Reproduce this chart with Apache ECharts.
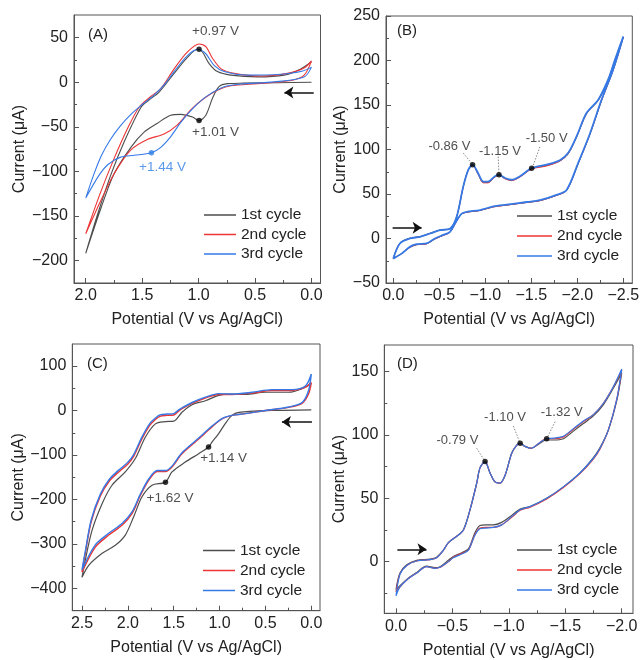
<!DOCTYPE html>
<html><head><meta charset="utf-8">
<script src="https://cdn.jsdelivr.net/npm/echarts@6/dist/echarts.min.js"></script>
<style>html,body{margin:0;padding:0;background:#fff}#c{width:641px;height:660px}</style>
</head><body><div id="c"></div>
<script>
const FONT = 'Liberation Sans, Arial, Helvetica, sans-serif';
const CYCLE_NAMES = ['1st cycle', '2nd cycle', '3rd cycle'];
const X_NAME = 'Potential (V vs Ag/AgCl)';
const Y_NAME = 'Current (μA)';

// ---------- Panel A ----------
const A_x_major = [2.0, 1.5, 1.0, 0.5, 0.0];
const A_x_minor = [1.75, 1.25, 0.75, 0.25];
const A_y_major = [-200, -150, -100, -50, 0, 50];
const A_y_minor = [-175, -125, -75, -25, 25];
const A_cycle1 = [[0,0],[0.3,-0.5],[0.6,-1],[0.744,-1.5],[0.82,-5],[0.877,-18],[0.936,-37],[0.996,-43],[1.055,-39],[1.158,-36],[1.247,-37],[1.365,-46],[1.483,-56],[1.60,-73],[1.75,-103],[1.867,-142],[2.0,-192],
  [1.897,-149],[1.778,-104],[1.66,-67],[1.51,-28],[1.44,-20],[1.35,-11],[1.217,10],[1.099,28],[1.01,37],[0.966,34],[0.907,21],[0.833,12],[0.715,8],[0.479,6],[0.242,8],[0.095,15],[0,23]];
const A_cycle2 = [[0,24],[0.065,8],[0.18,2],[0.48,-1.5],[0.715,-4],[0.833,-9],[0.95,-18],[1.07,-31],[1.19,-48],[1.306,-58],[1.45,-64],[1.60,-76],[1.75,-103],[1.867,-133],[2.0,-170],
  [1.867,-123],[1.75,-86],[1.63,-52],[1.527,-28],[1.424,-16],[1.335,-7],[1.217,15],[1.099,34],[0.996,43],[0.936,40],[0.877,27],[0.80,15],[0.685,10],[0.45,7],[0.213,10],[0.065,16],[0,24]];
const A_cycle3 = [[0,17],[0.065,6],[0.33,0.4],[0.626,-2],[0.774,-5],[0.92,-15],[1.04,-28],[1.158,-45],[1.247,-61],[1.335,-73],[1.418,-79],[1.57,-82],[1.69,-84],[1.80,-92],[1.88,-104],[2.0,-130],
  [1.93,-104],[1.86,-82],[1.78,-64],[1.70,-50],[1.60,-36],[1.50,-25],[1.40,-15],[1.306,-3],[1.217,12],[1.099,30],[1.005,37],[0.936,32],[0.863,19],[0.774,12],[0.567,8],[0.27,9],[0.095,12],[0,17]];
const A_dots_black = [[0.996,37],[0.996,-43]];
const A_dots_blue = [[1.418,-79]];
const A_labels_black = [{name:'+0.97 V', value:[0.85,57]}, {name:'+1.01 V', value:[0.85,-56]}];
const A_labels_blue = [{name:'+1.44 V', value:[1.32,-95]}];
const A_arrow = [[-0.02,-11.5],[0.24,-11.5]];

// ---------- Panel B ----------
const B_x_major = [0.0, -0.5, -1.0, -1.5, -2.0, -2.5];
const B_x_minor = [-0.25, -0.75, -1.25, -1.75, -2.25];
const B_y_major = [-50, 0, 50, 100, 150, 200, 250];
const B_y_minor = [-25, 25, 75, 125, 175, 225];
const B_cycle1 = [[0,-22],[-0.072,-5],[-0.18,0.5],[-0.29,2],[-0.40,6],[-0.507,9.5],[-0.616,11],[-0.688,24],[-0.76,58],[-0.815,77],[-0.862,82.5],[-0.924,72],[-0.978,63],[-1.03,63],[-1.105,69.5],[-1.149,71],[-1.214,67.5],[-1.286,65.5],[-1.377,69.5],[-1.504,78.5],[-1.667,82],[-1.81,87],[-1.90,95],[-1.993,114],[-2.10,140],[-2.228,155],[-2.337,178],[-2.41,200],[-2.5,226],
  [-2.39,189],[-2.264,155],[-2.138,117],[-2.01,84],[-1.884,54],[-1.775,48.5],[-1.594,42.5],[-1.45,40.5],[-1.232,37.5],[-1.087,35.5],[-0.942,31.5],[-0.797,29.5],[-0.743,27.5],[-0.688,19.5],[-0.616,7],[-0.543,3.5],[-0.453,-0.5],[-0.362,-6],[-0.254,-7],[-0.18,-10],[-0.09,-17],[0,-22]];
const B_cycle2 = [[0,-22.5],[-0.072,-5.5],[-0.18,0],[-0.29,2],[-0.40,5.5],[-0.507,9.5],[-0.616,11],[-0.688,24],[-0.76,58],[-0.815,77],[-0.862,82.5],[-0.924,72],[-0.978,62.5],[-1.03,62.5],[-1.105,69],[-1.149,71],[-1.214,67],[-1.286,65],[-1.377,69],[-1.504,78],[-1.667,81.5],[-1.81,87],[-1.90,95],[-1.993,114.5],[-2.10,140.5],[-2.228,155.5],[-2.337,178.5],[-2.41,200.5],[-2.5,226.5],
  [-2.39,189.5],[-2.264,155.5],[-2.138,117.5],[-2.01,84.5],[-1.884,54],[-1.775,48.5],[-1.594,42.5],[-1.45,40.5],[-1.232,37.5],[-1.087,35.5],[-0.942,31.5],[-0.797,29.5],[-0.743,27.5],[-0.688,19.5],[-0.616,7],[-0.543,3.5],[-0.453,-0.5],[-0.362,-6],[-0.254,-7],[-0.18,-10],[-0.09,-17],[0,-22.5]];
const B_cycle3 = [[0,-22.6],[-0.072,-5.6],[-0.18,0],[-0.29,1.9],[-0.40,5.6],[-0.507,9.4],[-0.616,11],[-0.688,24],[-0.76,58],[-0.815,77],[-0.862,83],[-0.924,73],[-0.978,64],[-1.03,64],[-1.105,70],[-1.149,71.5],[-1.214,68],[-1.286,66],[-1.377,70],[-1.504,79],[-1.667,83],[-1.81,88],[-1.90,96],[-1.993,115],[-2.10,141],[-2.228,156],[-2.337,179],[-2.41,201],[-2.5,227],
  [-2.39,190],[-2.264,156],[-2.138,118],[-2.01,85],[-1.884,54.5],[-1.775,49],[-1.594,43],[-1.45,41],[-1.232,38],[-1.087,36],[-0.942,32],[-0.797,30],[-0.743,28],[-0.688,20],[-0.616,7.5],[-0.543,4],[-0.453,0],[-0.362,-5.6],[-0.254,-6.4],[-0.18,-9.4],[-0.09,-17],[0,-22.6]];
const B_dots = [[-0.862,83],[-1.149,71.5],[-1.504,79]];
const B_labels = [{name:'-0.86 V', value:[-0.61,103]}, {name:'-1.15 V', value:[-1.16,98]}, {name:'-1.50 V', value:[-1.667,113]}];
const B_leaders = [[[-0.761,96],[-0.862,83]], [[-1.141,92],[-1.149,71.5]], [[-1.594,103],[-1.51,79]]];
const B_arrow = [[0.007,12],[-0.308,12]];

// ---------- Panel C ----------
const C_x_major = [2.5, 2.0, 1.5, 1.0, 0.5, 0.0];
const C_x_minor = [2.25, 1.75, 1.25, 0.75, 0.25];
const C_y_major = [-400, -300, -200, -100, 0, 100];
const C_y_minor = [-350, -250, -150, -50, 50];
const C_cycle1 = [[0,1.5],[0.43,0],[0.79,-4],[0.865,-11],[0.94,-30],[1.01,-52],[1.083,-71],[1.12,-82],[1.228,-97],[1.374,-116],[1.519,-138],[1.59,-161],[1.737,-168],[1.846,-194],[1.937,-239],[2.028,-280],[2.137,-303],[2.28,-321],[2.427,-348],[2.5,-375],
  [2.464,-336],[2.39,-269],[2.28,-209],[2.173,-168],[2.028,-138],[1.919,-108],[1.81,-60],[1.70,-30],[1.59,-25],[1.50,-24],[1.41,-4],[1.30,13],[1.155,22],[1.01,34],[0.90,37],[0.72,36],[0.50,41],[0.247,41],[0.10,49],[0,61]];
const C_cycle2 = [[0,62],[0.03,37],[0.10,16],[0.247,7],[0.50,0],[0.72,-7],[0.865,-11],[0.974,-19],[1.083,-37],[1.228,-64],[1.41,-97],[1.519,-127],[1.59,-137],[1.68,-137],[1.773,-157],[1.864,-191],[1.955,-232],[2.064,-258],[2.209,-280],[2.355,-307],[2.5,-363],
  [2.464,-320],[2.40,-250],[2.30,-192],[2.20,-158],[2.10,-138],[2.00,-120],[1.937,-103],[1.85,-65],[1.76,-33],[1.70,-20],[1.65,-13],[1.573,-11],[1.50,-10],[1.45,-2],[1.41,4],[1.30,16],[1.155,28],[1.01,36],[0.865,36],[0.647,39],[0.43,45],[0.21,45],[0.065,52],[0,64]];
const C_cycle3 = [[0,82],[0.03,45],[0.10,18],[0.247,8],[0.50,0],[0.72,-7],[0.865,-11],[0.974,-18],[1.083,-35],[1.228,-62],[1.41,-95],[1.519,-125],[1.59,-135],[1.68,-135],[1.773,-154],[1.864,-188],[1.955,-228],[2.064,-254],[2.209,-276],[2.355,-302],[2.5,-358],
  [2.464,-316],[2.40,-246],[2.30,-188],[2.20,-154],[2.10,-134],[2.00,-116],[1.937,-99],[1.85,-61],[1.76,-29],[1.70,-17],[1.65,-10],[1.573,-8],[1.50,-7],[1.45,1],[1.41,6],[1.30,18],[1.155,30],[1.01,38],[0.865,37],[0.647,41],[0.43,47],[0.21,47],[0.065,55],[0,82]];
const C_dots = [[1.12,-82],[1.59,-161]];
const C_labels = [{name:'+1.14 V', value:[0.956,-108]}, {name:'+1.62 V', value:[1.54,-198]}];
const C_arrow = [[-0.007,-26],[0.32,-26]];

// ---------- Panel D ----------
const D_x_major = [0.0, -0.5, -1.0, -1.5, -2.0];
const D_x_minor = [-0.25, -0.75, -1.25, -1.75];
const D_y_major = [0, 50, 100, 150];
const D_y_minor = [-25, 25, 75, 125];
const D_cycle1 = [[0,-22],[-0.035,-9],[-0.095,-2.5],[-0.183,1],[-0.30,2],[-0.36,3.5],[-0.42,9],[-0.464,15],[-0.538,20],[-0.597,25],[-0.656,41],[-0.715,62],[-0.744,74],[-0.789,79],[-0.833,70],[-0.877,63],[-0.92,62],[-0.966,68],[-1.025,85.5],[-1.07,92],[-1.10,93.4],[-1.143,91],[-1.20,89.5],[-1.26,92.5],[-1.33,96],[-1.394,96],[-1.483,97],[-1.572,103],[-1.66,109],[-1.749,115],[-1.838,124],[-1.926,137],[-2.0,149],
  [-1.956,127],[-1.882,104],[-1.808,90],[-1.749,82],[-1.63,70],[-1.483,59],[-1.335,50],[-1.188,43.5],[-1.10,41.5],[-1.025,36.5],[-0.936,31],[-0.863,29],[-0.80,29],[-0.744,28.5],[-0.70,23],[-0.641,10],[-0.582,7],[-0.508,4],[-0.464,1],[-0.39,-4],[-0.346,-4.8],[-0.27,-3.5],[-0.183,-8.5],[-0.095,-14],[-0.035,-19],[0,-22]];
const D_cycle2 = [[0,-24],[-0.035,-9.5],[-0.095,-3],[-0.183,0.5],[-0.30,1.5],[-0.36,3],[-0.42,9],[-0.464,15],[-0.538,20],[-0.597,25],[-0.656,41],[-0.715,62],[-0.744,74],[-0.789,79],[-0.833,70],[-0.877,63],[-0.92,62],[-0.966,68],[-1.025,85.5],[-1.07,92],[-1.10,93.4],[-1.143,91],[-1.20,89.5],[-1.26,93],[-1.33,97],[-1.394,97],[-1.483,98.5],[-1.572,104.5],[-1.66,110.5],[-1.749,116],[-1.838,125],[-1.926,138],[-2.0,151],
  [-1.956,128],[-1.882,104],[-1.808,89],[-1.749,81],[-1.63,69.5],[-1.483,58.5],[-1.335,49.5],[-1.188,43],[-1.10,40.5],[-1.025,35],[-0.936,29],[-0.863,27],[-0.80,27],[-0.744,26.5],[-0.70,21.5],[-0.641,9],[-0.582,6.5],[-0.508,3.4],[-0.464,0],[-0.39,-4.5],[-0.346,-5.3],[-0.27,-4],[-0.183,-9],[-0.095,-14.5],[-0.035,-20],[0,-24]];
const D_cycle3 = [[0,-27],[-0.035,-10],[-0.095,-3],[-0.183,0.5],[-0.30,1.5],[-0.36,3],[-0.42,9],[-0.464,15],[-0.538,20],[-0.597,25],[-0.656,41],[-0.715,62],[-0.744,74],[-0.789,79],[-0.833,70],[-0.877,63],[-0.92,62],[-0.966,68],[-1.025,85.5],[-1.07,92],[-1.10,93.4],[-1.143,91],[-1.20,89.5],[-1.26,93],[-1.33,97],[-1.394,97.5],[-1.483,99],[-1.572,105],[-1.66,111],[-1.749,116],[-1.838,125],[-1.926,138],[-2.0,152],
  [-1.956,128],[-1.882,104],[-1.808,89.5],[-1.749,81.6],[-1.63,70],[-1.483,59],[-1.335,50],[-1.188,43.4],[-1.10,41],[-1.025,35.5],[-0.936,29],[-0.863,27],[-0.80,26.5],[-0.744,26],[-0.70,21],[-0.641,9],[-0.582,6],[-0.508,3],[-0.464,0],[-0.39,-4.5],[-0.346,-5.3],[-0.27,-4],[-0.183,-9],[-0.095,-14.5],[-0.035,-20],[0,-27]];
const D_dots = [[-0.789,79],[-1.10,93.4],[-1.335,97]];
const D_labels = [{name:'-0.79 V', value:[-0.544,96]}, {name:'-1.10 V', value:[-0.966,114]}, {name:'-1.32 V', value:[-1.468,118]}];
const D_leaders = [[[-0.715,89.5],[-0.789,79]], [[-1.04,107],[-1.10,93.4]], [[-1.41,110.5],[-1.335,97]]];
const D_arrow = [[-0.012,9.7],[-0.27,9.7]];

// ---------- styling ----------
const AXIS_COLOR = '#555';
const TEXT_COLOR = '#222';
const COLORS = ['#4d4d4d', '#ec3434', '#3579e6'];
const BLUE_TEXT = '#2f7fe6';

function fmtX(v) { const s = Math.abs(v) < 1e-9 ? '0.0' : v.toFixed(1); return s.replace('-', '\u2212'); }
function fmtY(v) { return String(Math.round(v)).replace('-', '\u2212'); }

const panels = [
  {grid:{left:74, top:15, width:246.5, height:268}, xr:[-0.08,2.104], yr:[-225.3,75.5], xMaj:A_x_major, xMin:A_x_minor, yMaj:A_y_major, yMin:A_y_minor, yGap:44, cycles:[A_cycle1,A_cycle2,A_cycle3], widths:[1.1,1.1,1.1], label:'(A)', lp:[88,27], ann:13.5},
  {grid:{left:386, top:16, width:246.3, height:267}, xr:[-2.598,0.079], yr:[-50,250], xMaj:B_x_major, xMin:B_x_minor, yMaj:B_y_major, yMin:B_y_minor, yGap:35.5, cycles:[B_cycle1,B_cycle2,B_cycle3], widths:[1,1,1.8], label:'(B)', lp:[397,23], ann:13},
  {grid:{left:72.3, top:344, width:247.7, height:266.7}, xr:[-0.095,2.606], yr:[-450,149.5], xMaj:C_x_major, xMin:C_x_minor, yMaj:C_y_major, yMin:C_y_minor, yGap:42, cycles:[C_cycle1,C_cycle2,C_cycle3], widths:[1.2,1.4,1.4], label:'(C)', lp:[87,356], ann:13.5},
  {grid:{left:384.3, top:345, width:248.7, height:268.3}, xr:[-2.1,0.104], yr:[-40.8,171], xMaj:D_x_major, xMin:D_x_minor, yMaj:D_y_major, yMin:D_y_minor, yGap:33, cycles:[D_cycle1,D_cycle2,D_cycle3], widths:[1.2,1.2,1.2], label:'(D)', lp:[397,356], ann:13}
];

const grids = [], xAxes = [], yAxes = [], series = [], graphics = [];
const tickStyle = {color: AXIS_COLOR, width: 1};
const tickTxt = {fontFamily: FONT, fontSize: 16, color: TEXT_COLOR};
const nameTxt = {fontFamily: FONT, fontSize: 16, color: TEXT_COLOR};

panels.forEach((p, g) => {
  grids.push(Object.assign({show:true, borderColor:AXIS_COLOR, borderWidth:1, backgroundColor:'transparent', containLabel:false, outerBoundsMode:'none'}, p.grid));
  xAxes.push({type:'value', gridIndex:g, position:'bottom', min:p.xr[0], max:p.xr[1], inverse:true,
    name:X_NAME, nameLocation:'middle', nameGap:29, nameTextStyle:nameTxt,
    axisLine:{show:true, onZero:false, lineStyle:tickStyle},
    axisTick:{show:true, inside:true, length:5, customValues:p.xMaj, lineStyle:tickStyle},
    axisLabel:{show:true, customValues:p.xMaj, formatter:fmtX, margin:5, ...tickTxt},
    splitLine:{show:false}});
  xAxes.push({type:'value', gridIndex:g, position:'bottom', min:p.xr[0], max:p.xr[1], inverse:true,
    axisLine:{show:false, onZero:false}, axisTick:{show:true, inside:true, length:3, customValues:p.xMin, lineStyle:tickStyle},
    axisLabel:{show:false}, splitLine:{show:false}});
  yAxes.push({type:'value', gridIndex:g, position:'left', min:p.yr[0], max:p.yr[1],
    name:Y_NAME, nameLocation:'middle', nameGap:p.yGap, nameTextStyle:nameTxt,
    axisLine:{show:true, onZero:false, lineStyle:tickStyle},
    axisTick:{show:true, inside:true, length:5, customValues:p.yMaj, lineStyle:tickStyle},
    axisLabel:{show:true, customValues:p.yMaj, formatter:fmtY, margin:6, ...tickTxt},
    splitLine:{show:false}});
  yAxes.push({type:'value', gridIndex:g, position:'left', min:p.yr[0], max:p.yr[1],
    axisLine:{show:false, onZero:false}, axisTick:{show:true, inside:true, length:3, customValues:p.yMin, lineStyle:tickStyle},
    axisLabel:{show:false}, splitLine:{show:false}});
  const xi = 2*g, yi = 2*g;
  p.cycles.forEach((data, k) => {
    series.push({type:'line', name:CYCLE_NAMES[k], xAxisIndex:xi, yAxisIndex:yi, data:data, symbol:'none', smooth:0.3,
      lineStyle:{color:COLORS[k], width:p.widths[k]}, itemStyle:{color:COLORS[k]}, z:2+k, emphasis:{disabled:true}, silent:true});
  });
  graphics.push({type:'text', left:p.lp[0], top:p.lp[1], style:{text:p.label, font:'15px ' + FONT, fill:TEXT_COLOR}});
});

function dots(g, data, color) {
  return {type:'scatter', xAxisIndex:2*g, yAxisIndex:2*g, data:data, symbolSize:5.5, itemStyle:{color:color}, z:10, silent:true};
}
function labels(g, data, color) {
  return {type:'scatter', xAxisIndex:2*g, yAxisIndex:2*g, data:data, symbolSize:1, itemStyle:{color:'rgba(0,0,0,0)'}, z:11, silent:true,
    label:{show:true, position:'inside', formatter:'{b}', fontFamily:FONT, fontSize:panels[g].ann, color:color}};
}
function arrow(g, pts) {
  return {type:'lines', coordinateSystem:'cartesian2d', xAxisIndex:2*g, yAxisIndex:2*g, data:[{coords:pts}],
    symbol:['none','arrow'], symbolSize:[0,9], lineStyle:{color:'#111', width:1.5, opacity:1}, z:12, silent:true};
}
function leaders(g, list) {
  return {type:'lines', coordinateSystem:'cartesian2d', xAxisIndex:2*g, yAxisIndex:2*g, data:list.map(c => ({coords:c})),
    symbol:'none', lineStyle:{color:'#888', width:1, type:[1.5,1.5], opacity:1}, z:9, silent:true};
}

series.push(dots(0, A_dots_black, '#000'), dots(0, A_dots_blue, BLUE_TEXT), labels(0, A_labels_black, TEXT_COLOR), labels(0, A_labels_blue, BLUE_TEXT), arrow(0, A_arrow));
series.push(leaders(1, B_leaders), dots(1, B_dots, '#000'), labels(1, B_labels, TEXT_COLOR), arrow(1, B_arrow));
series.push(dots(2, C_dots, '#000'), labels(2, C_labels, TEXT_COLOR), arrow(2, C_arrow));
series.push(leaders(3, D_leaders), dots(3, D_dots, '#000'), labels(3, D_labels, TEXT_COLOR), arrow(3, D_arrow));

function legend(left, top, w, gap) {
  return {orient:'vertical', left:left, top:top, itemWidth:w, itemHeight:1.5, itemGap:gap, icon:'rect', data:CYCLE_NAMES,
    textStyle:{fontFamily:FONT, fontSize:15.5, lineHeight:16, color:TEXT_COLOR}, padding:0, selectedMode:false};
}

const chart = echarts.init(document.getElementById('c'), null, {renderer:'canvas'});
chart.setOption({
  animation:false,
  backgroundColor:'#fff',
  grid:grids, xAxis:xAxes, yAxis:yAxes, series:series, graphic:graphics,
  legend:[legend(204,207,32,3.5), legend(517,208,35,4), legend(203,542.5,32,4), legend(517,542,35,4)]
});
</script></body></html>
